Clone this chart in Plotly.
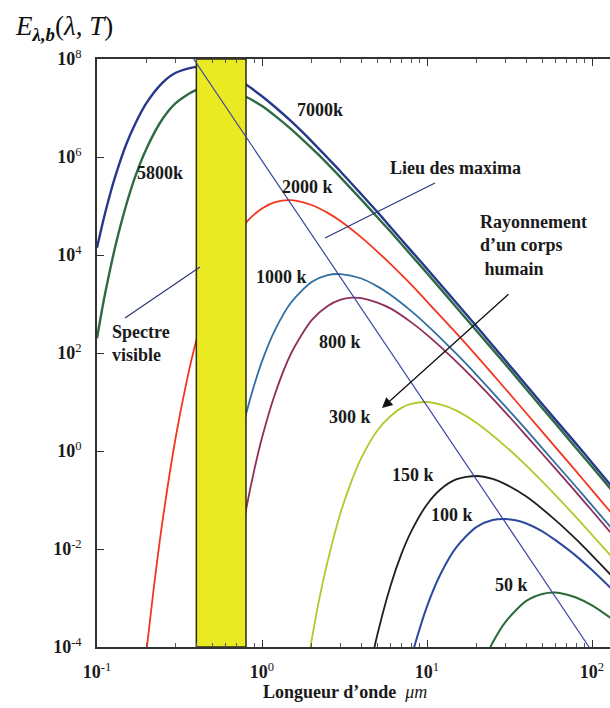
import plotly.graph_objects as go

# ---- data (wavelength in µm, log10 of E read on the log axis) ----
lam_hot = [0.1, 0.11, 0.12, 0.13, 0.15, 0.17, 0.2, 0.25, 0.3, 0.4, 0.5, 0.6, 0.8, 1, 1.2, 1.5,
           2, 2.5, 3, 4, 5, 6, 8, 10, 15, 20, 30, 40, 60, 80, 100, 130]
loge_7000 = [4.15, 4.75, 5.24, 5.64, 6.25, 6.67, 7.11, 7.52, 7.72, 7.84, 7.80, 7.71, 7.48, 7.24, 7.02, 6.73,
             6.32, 5.98, 5.70, 5.24, 4.88, 4.57, 4.09, 3.72, 3.03, 2.54, 1.84, 1.34, 0.64, 0.15, -0.24, -0.70]
loge_5800 = [2.30, 3.08, 3.70, 4.22, 5.01, 5.59, 6.18, 6.78, 7.10, 7.37, 7.43, 7.40, 7.23, 7.04, 6.84, 6.57,
             6.18, 5.86, 5.58, 5.13, 4.77, 4.48, 4.00, 3.63, 2.94, 2.45, 1.76, 1.26, 0.56, 0.06, -0.32, -0.78]

lam_2000 = [0.2, 0.22, 0.25, 0.3, 0.35, 0.4, 0.5, 0.6, 0.8, 1, 1.2, 1.5, 2, 2.5, 3, 4, 5, 6, 8, 10,
            15, 20, 30, 40, 60, 80, 100, 130]
loge_2000 = [-4.05, -2.84, -1.41, 0.28, 1.43, 2.26, 3.33, 3.98, 4.66, 4.95, 5.08, 5.12, 5.02, 4.86, 4.69,
             4.36, 4.07, 3.82, 3.40, 3.05, 2.41, 1.94, 1.26, 0.77, 0.08, -0.41, -0.80, -1.25]

lam_1000 = [0.6, 0.7, 0.8, 0.9, 1, 1.2, 1.5, 2, 2.5, 3, 4, 5, 6, 8, 10, 15, 20, 30, 40, 60, 80, 100, 130]
loge_1000 = [-1.23, -0.08, 0.75, 1.36, 1.83, 2.47, 3.03, 3.45, 3.59, 3.61, 3.52, 3.36, 3.19, 2.86, 2.57,
             1.99, 1.55, 0.90, 0.43, -0.25, -0.73, -1.11, -1.56]

lam_800 = [0.7, 0.8, 0.9, 1, 1.2, 1.5, 2, 2.5, 3, 3.5, 4, 5, 6, 8, 10, 15, 20, 30, 40, 60, 80, 100, 130]
loge_800 = [-2.31, -1.20, -0.37, 0.27, 1.17, 1.99, 2.67, 2.96, 3.09, 3.13, 3.12, 3.03, 2.91, 2.63, 2.37,
            1.83, 1.41, 0.78, 0.31, -0.36, -0.84, -1.22, -1.67]

lam_300 = [1.9, 2.2, 2.5, 3, 3.5, 4, 5, 6, 7, 8, 10, 12, 15, 20, 30, 40, 60, 80, 100, 130]
loge_300 = [-4.28, -3.10, -2.25, -1.25, -0.60, -0.14, 0.42, 0.71, 0.88, 0.96, 1.00, 0.95, 0.83, 0.57,
            0.09, -0.30, -0.90, -1.35, -1.71, -2.14]

lam_150 = [4.5, 5, 6, 7, 8, 10, 12, 15, 20, 25, 30, 40, 60, 80, 100, 130]
loge_150 = [-4.45, -3.75, -2.76, -2.10, -1.65, -1.09, -0.79, -0.58, -0.51, -0.57, -0.68, -0.93, -1.41,
            -1.80, -2.13, -2.53]

lam_100 = [8, 8.5, 10, 12, 15, 20, 25, 30, 35, 40, 50, 60, 80, 100, 130]
loge_100 = [-4.25, -3.92, -3.17, -2.53, -1.97, -1.55, -1.41, -1.39, -1.42, -1.48, -1.64, -1.82, -2.14,
            -2.43, -2.80]

lam_50 = [22, 25, 30, 40, 50, 60, 70, 80, 100, 130]
loge_50 = [-4.32, -3.91, -3.48, -3.06, -2.92, -2.89, -2.93, -2.99, -3.15, -3.41]

# visible band and locus of maxima
band_lam = [0.4, 0.8]
band_E = [1e-4, 1e8]
maxima_lam = [0.385, 96]
maxima_E = [1e8, 1e-4]

x_tickvals = [0.1, 1, 10, 100]
x_ticktext = ["<b>10</b><sup>-1</sup>", "<b>10</b><sup>0</sup>", "<b>10</b><sup>1</sup>", "<b>10</b><sup>2</sup>"]
y_tickvals = [1e-4, 1e-2, 1, 1e2, 1e4, 1e6, 1e8]
y_ticktext = ["<b>10</b><sup>-4</sup>", "<b>10</b><sup>-2</sup>", "<b>10</b><sup>0</sup>", "<b>10</b><sup>2</sup>",
              "<b>10</b><sup>4</sup>", "<b>10</b><sup>6</sup>", "<b>10</b><sup>8</sup>"]

# ---- figure ----
W, H = 610, 708
L, R, T, B = 97, 0, 59, 61
PW, PH = W - L - R, H - T - B


def px(x, y):
    return (x - L) / PW, (H - B - y) / PH


curves = [
    (lam_hot, loge_5800, "#2f6a45", 2.4),
    (lam_hot, loge_7000, "#27388c", 2.4),
    (lam_2000, loge_2000, "#f4361f", 1.8),
    (lam_1000, loge_1000, "#2f6fa2", 1.8),
    (lam_800, loge_800, "#8f2d5c", 1.8),
    (lam_300, loge_300, "#b4c82e", 1.8),
    (lam_150, loge_150, "#1f1f1f", 1.8),
    (lam_100, loge_100, "#2b4a9e", 2.0),
    (lam_50, loge_50, "#2a6a3a", 2.0),
]

fig = go.Figure()
for lam, le, col, w in curves:
    fig.add_trace(go.Scatter(x=lam, y=[10 ** v for v in le], mode="lines",
                             line=dict(color=col, width=w, shape="spline", smoothing=0.8),
                             hoverinfo="skip", showlegend=False))

fig.add_trace(go.Scatter(x=[band_lam[0], band_lam[1], band_lam[1], band_lam[0], band_lam[0]],
                         y=[band_E[0], band_E[0], band_E[1], band_E[1], band_E[0]],
                         mode="lines", fill="toself", fillcolor="#eaea22",
                         line=dict(color="#2a2a10", width=1.5), hoverinfo="skip", showlegend=False))

fig.add_trace(go.Scatter(x=maxima_lam, y=maxima_E, mode="lines",
                         line=dict(color="#3a46a0", width=1.2), hoverinfo="skip", showlegend=False))

serif = "Liberation Serif"
FS = 18
labels = [
    ("7000k", 320, 110), ("5800k", 160, 173), ("2000 k", 307, 187), ("1000 k", 281, 277),
    ("800 k", 340, 342), ("300 k", 350, 417), ("150 k", 413, 475), ("100 k", 452, 515),
    ("50 k", 511, 585), ("Lieu des maxima", 455, 168),
]
ann = []
for t, x, y in labels:
    xp, yp = px(x, y)
    ann.append(dict(x=xp, y=yp, xref="paper", yref="paper", text="<b>" + t + "</b>", showarrow=False,
                    font=dict(family=serif, size=FS, color="#1a1a1a"), xanchor="center", yanchor="middle"))

xp, yp = px(478, 246)
ann.append(dict(x=xp, y=yp, xref="paper", yref="paper",
                text="<b>Rayonnement<br>d’un corps<br> humain</b>", showarrow=False, align="left",
                font=dict(family=serif, size=FS, color="#1a1a1a"), xanchor="left", yanchor="middle"))
xp, yp = px(110, 343)
ann.append(dict(x=xp, y=yp, xref="paper", yref="paper", text="<b>Spectre<br>visible</b>",
                showarrow=False, align="left", font=dict(family=serif, size=FS, color="#1a1a1a"),
                xanchor="left", yanchor="middle"))

# arrow for human body radiation
xp, yp = px(382, 408)
ann.append(dict(x=xp, y=yp, xref="paper", yref="paper", text="", showarrow=True, arrowhead=2,
                arrowsize=1.6, arrowwidth=1.3, arrowcolor="#111111", ax=128, ay=-115))

# axis titles
xp, yp = px(13, 28)
ann.append(dict(x=xp, y=yp, xref="paper", yref="paper",
                text="<i>E</i><sub><i><b>λ,b</b></i></sub>(<i>λ</i>, <i>T</i>)", showarrow=False,
                font=dict(family=serif, size=27, color="#111111"), xanchor="left", yanchor="middle"))
xp, yp = px(345, 692)
ann.append(dict(x=xp, y=yp, xref="paper", yref="paper",
                text="<b>Longueur d’onde</b>  <i>μm</i>", showarrow=False,
                font=dict(family=serif, size=FS, color="#1a1a1a"), xanchor="center", yanchor="middle"))

shapes = []
for (x0, y0, x1, y1) in [(435, 183, 325, 238), (200, 267, 125, 318)]:
    a0, b0 = px(x0, y0)
    a1, b1 = px(x1, y1)
    shapes.append(dict(type="line", xref="paper", yref="paper", x0=a0, y0=b0, x1=a1, y1=b1,
                       line=dict(color="#2a3478", width=1.2)))

minor_x = [m * 10 ** e for e in (-1, 0, 1) for m in range(2, 10)]

fig.update_layout(
    width=W, height=H, margin=dict(l=L, r=R, t=T, b=B),
    paper_bgcolor="white", plot_bgcolor="white",
    font=dict(family=serif, size=FS, color="#1a1a1a"),
    showlegend=False, annotations=ann, shapes=shapes,
    xaxis=dict(type="log", range=[-1, 2.109], tickmode="array", tickvals=x_tickvals, ticktext=x_ticktext,
               ticks="inside", ticklen=7, tickwidth=1.2, tickcolor="#333", showgrid=False, zeroline=False,
               showline=True, linecolor="#333", linewidth=1.5, mirror="allticks", ticklabelstandoff=8,
               tickfont=dict(family=serif, size=18, color="#1a1a1a"),
               minor=dict(tickvals=minor_x, ticks="inside", ticklen=4, tickcolor="#555", showgrid=False)),
    yaxis=dict(type="log", range=[-4, 8], tickmode="array", tickvals=y_tickvals, ticktext=y_ticktext,
               ticks="inside", ticklen=7, tickwidth=1.2, tickcolor="#333", showgrid=False, zeroline=False,
               showline=True, linecolor="#333", linewidth=1.5, mirror=False, ticklabelstandoff=10,
               tickfont=dict(family=serif, size=18, color="#1a1a1a")),
)

fig.write_html("out.html")
